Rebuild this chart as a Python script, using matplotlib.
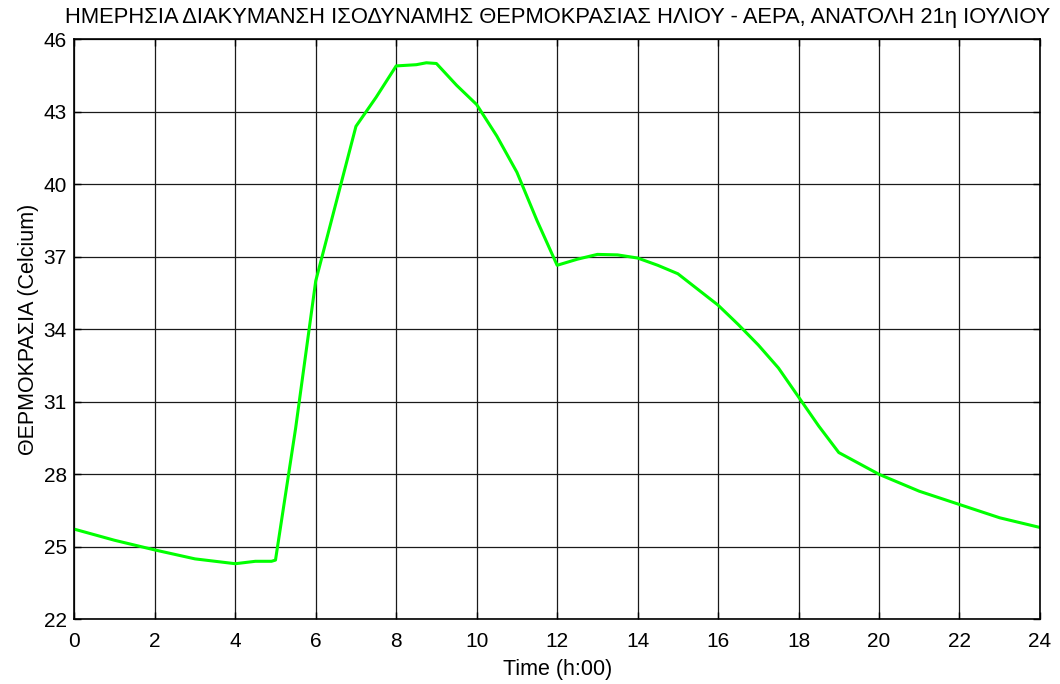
import matplotlib
matplotlib.use("Agg")
import matplotlib.pyplot as plt

# Ώρες και θερμοκρασία ήλιου-αέρα (ανατολή, 21 Ιουλίου)
ores = [0, 1, 2, 3, 4, 4.5, 4.9, 5, 5.5, 6, 6.5, 7, 7.5, 8, 8.5, 8.75, 9, 9.5, 10,
        10.5, 11, 11.5, 12, 12.5, 13, 13.5, 14, 14.5, 15, 15.5, 16, 16.5, 17,
        17.5, 18, 18.5, 19, 19.5, 20, 21, 22, 23, 24]
thermokrasia = [25.73, 25.27, 24.87, 24.5, 24.3, 24.4, 24.4, 24.45, 29.9, 36.0, 39.2,
                42.4, 43.6, 44.9, 44.95, 45.03, 45.0, 44.1, 43.3, 42.0, 40.5, 38.5,
                36.65, 36.9, 37.1, 37.08, 36.95, 36.65, 36.3, 35.65, 35.0, 34.2,
                33.35, 32.4, 31.2, 30.0, 28.9, 28.45, 28.0, 27.3, 26.75, 26.2, 25.8]

xticks = list(range(0, 25, 2))
yticks = list(range(22, 47, 3))

plt.rcParams["font.family"] = ["Liberation Sans", "DejaVu Sans"]
plt.rcParams["font.size"] = 15

fig = plt.figure(figsize=(10.6, 6.84), dpi=100)
ax = fig.add_axes([0.0701, 0.0946, 0.9110, 0.8479])

ax.plot(ores, thermokrasia, color="#00ff00", linewidth=2.2)

ax.set_xlim(0, 24)
ax.set_ylim(22, 46)
ax.set_xticks(xticks)
ax.set_yticks(yticks)
ax.grid(True, color="#1a1a1a", linewidth=0.9, linestyle="-")
ax.tick_params(direction="in", length=5, width=1, top=True, right=True,
               labelsize=15)
ax.tick_params(axis="x", pad=9.5)
ax.tick_params(axis="y", pad=5.5)
for s in ax.spines.values():
    s.set_linewidth(1.2)

ax.set_title("ΗΜΕΡΗΣΙΑ ΔΙΑΚΥΜΑΝΣΗ ΙΣΟΔΥΝΑΜΗΣ ΘΕΡΜΟΚΡΑΣΙΑΣ ΗΛΙΟΥ - ΑΕΡΑ, ΑΝΑΤΟΛΗ 21η ΙΟΥΛΙΟΥ",
             fontsize=15.8, pad=12)
ax.set_xlabel("Time (h:00)", fontsize=15.5, labelpad=5.5)
ax.set_ylabel("ΘΕΡΜΟΚΡΑΣΙΑ (Celcium)", fontsize=15.5, labelpad=3)

fig.savefig("out.png", dpi=100)
